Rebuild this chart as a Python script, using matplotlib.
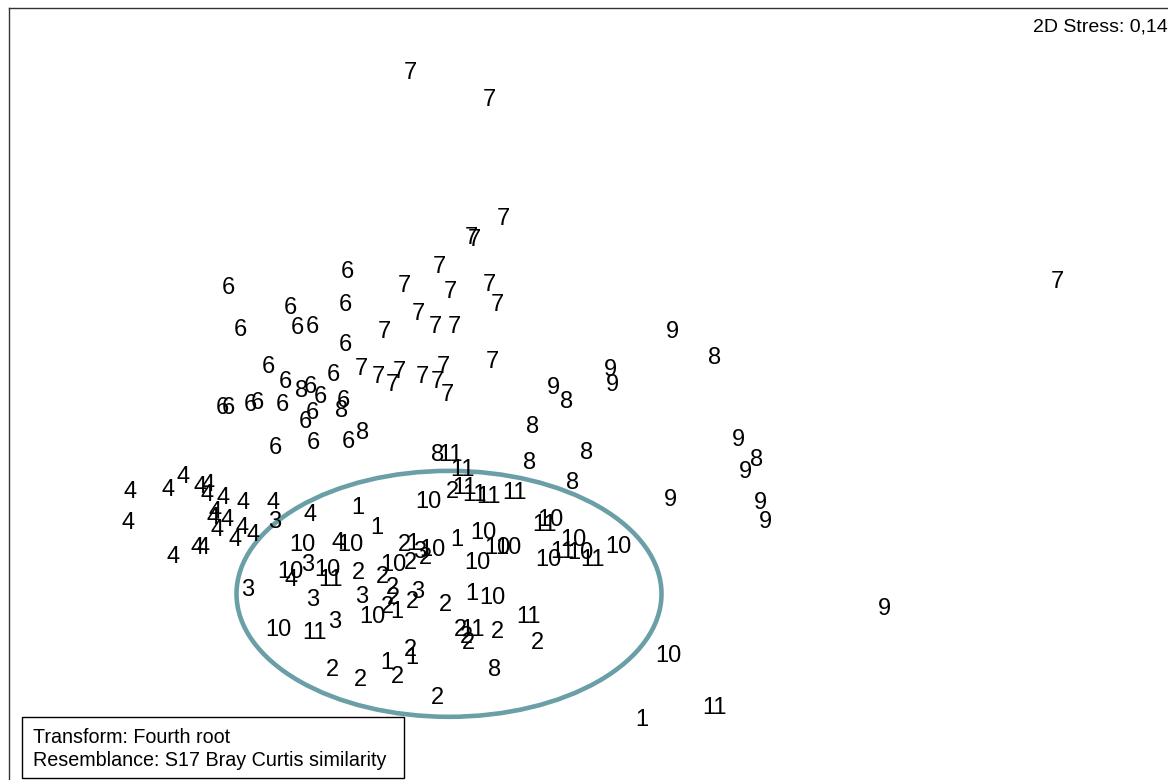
import matplotlib.pyplot as plt
from matplotlib.patches import Ellipse, Rectangle

plt.rcParams['font.family'] = ['Liberation Sans', 'DejaVu Sans']

# nMDS ordination, one label per sample (group number), coords
# (x to the right, y downwards like the original PRIMER output)
g1_x = [358, 377, 413, 457, 472, 397, 412, 387, 642]
g1_y = [508, 528, 544, 540, 594, 612, 658, 663, 720]

g2_x = [452, 404, 410, 425, 358, 382, 392, 393, 412, 387, 445, 460, 466, 468, 497, 537, 410, 397, 332, 360, 437]
g2_y = [492, 545, 563, 558, 573, 577, 588, 598, 602, 607, 605, 630, 637, 643, 632, 643, 650, 677, 670, 680, 698]

g3_x = [275, 308, 248, 313, 362, 418, 335, 420]
g3_y = [522, 565, 590, 600, 597, 592, 622, 552]

g4_x = [130, 168, 183, 200, 208, 207, 223, 243, 273, 128, 215, 213, 227, 217, 242, 253, 235, 310, 173, 197, 203, 338, 291]
g4_y = [492, 490, 477, 487, 485, 495, 498, 503, 503, 523, 512, 518, 520, 530, 528, 535, 540, 515, 557, 548, 548, 543, 580]

g6_x = [347, 228, 290, 345, 240, 297, 312, 345, 268, 285, 333, 310, 320, 343, 222, 228, 250, 257, 282, 312, 305, 275, 313, 348]
g6_y = [272, 288, 308, 305, 330, 328, 327, 345, 367, 382, 375, 387, 397, 401, 408, 408, 405, 403, 405, 413, 422, 448, 443, 442]

g7_x = [410, 489, 503, 471, 474, 439, 404, 450, 489, 497, 418, 435, 454, 384, 1057, 492, 361, 378, 392, 399, 422, 443, 437, 447]
g7_y = [73, 100, 219, 238, 240, 267, 286, 292, 285, 305, 314, 327, 327, 332, 282, 362, 369, 377, 385, 372, 377, 367, 382, 395]

g8_x = [302, 342, 363, 438, 530, 587, 573, 533, 567, 715, 757, 495]
g8_y = [391, 411, 433, 455, 463, 453, 483, 427, 402, 358, 460, 670]

g9_x = [672, 610, 612, 553, 738, 745, 670, 760, 765, 884]
g9_y = [332, 370, 385, 388, 440, 472, 500, 503, 522, 609]

g10_x = [428, 302, 350, 290, 327, 393, 432, 483, 497, 508, 477, 550, 548, 573, 580, 618, 492, 278, 372, 668]
g10_y = [502, 545, 545, 572, 570, 565, 550, 533, 548, 548, 563, 520, 560, 540, 553, 547, 598, 630, 617, 656]

g11_x = [450, 462, 465, 475, 488, 515, 545, 562, 593, 330, 315, 528, 472, 715]
g11_y = [455, 470, 488, 495, 497, 493, 525, 552, 560, 580, 633, 617, 630, 708]

groups = {
    "1": (g1_x, g1_y), "2": (g2_x, g2_y), "3": (g3_x, g3_y), "4": (g4_x, g4_y),
    "6": (g6_x, g6_y), "7": (g7_x, g7_y), "8": (g8_x, g8_y), "9": (g9_x, g9_y),
    "10": (g10_x, g10_y), "11": (g11_x, g11_y),
}

# cluster outline drawn around the central group
ell_center = (449, 594)
ell_width = 425
ell_height = 246

stress = "2D Stress: 0,14"
notes = ["Transform: Fourth root", "Resemblance: S17 Bray Curtis similarity"]

fig = plt.figure(figsize=(11.68, 7.8), dpi=100)
# frame runs off the right and bottom edges, like the exported original
ax = fig.add_axes([9 / 1168, -0.01, 1.0, 1 - 8 / 780 + 0.01])
ax.set_xlim(9, 1177)
ax.set_ylim(788, 8)
ax.set_xticks([])
ax.set_yticks([])
for s in ax.spines.values():
    s.set_linewidth(1.0)
    s.set_color("#333333")

for lab, (xs, ys) in groups.items():
    for x, y in zip(xs, ys):
        ax.text(x, y, lab, ha="center", va="center", fontsize=17, color="black")

ax.add_patch(Ellipse(ell_center, ell_width, ell_height, fill=False,
                     edgecolor="#6b9fa8", linewidth=3.3))

fig.text(1168 / 1168, 1 - 27 / 780, stress, ha="right", va="center", fontsize=14)

# note box, bottom left
ax.add_patch(Rectangle((22, 717), 382, 61, fill=False, edgecolor="black", linewidth=1.0))
ax.text(33, 738, notes[0], ha="left", va="center", fontsize=14.2)
ax.text(33, 761, notes[1], ha="left", va="center", fontsize=14.2)

fig.savefig("out.png", dpi=100)
